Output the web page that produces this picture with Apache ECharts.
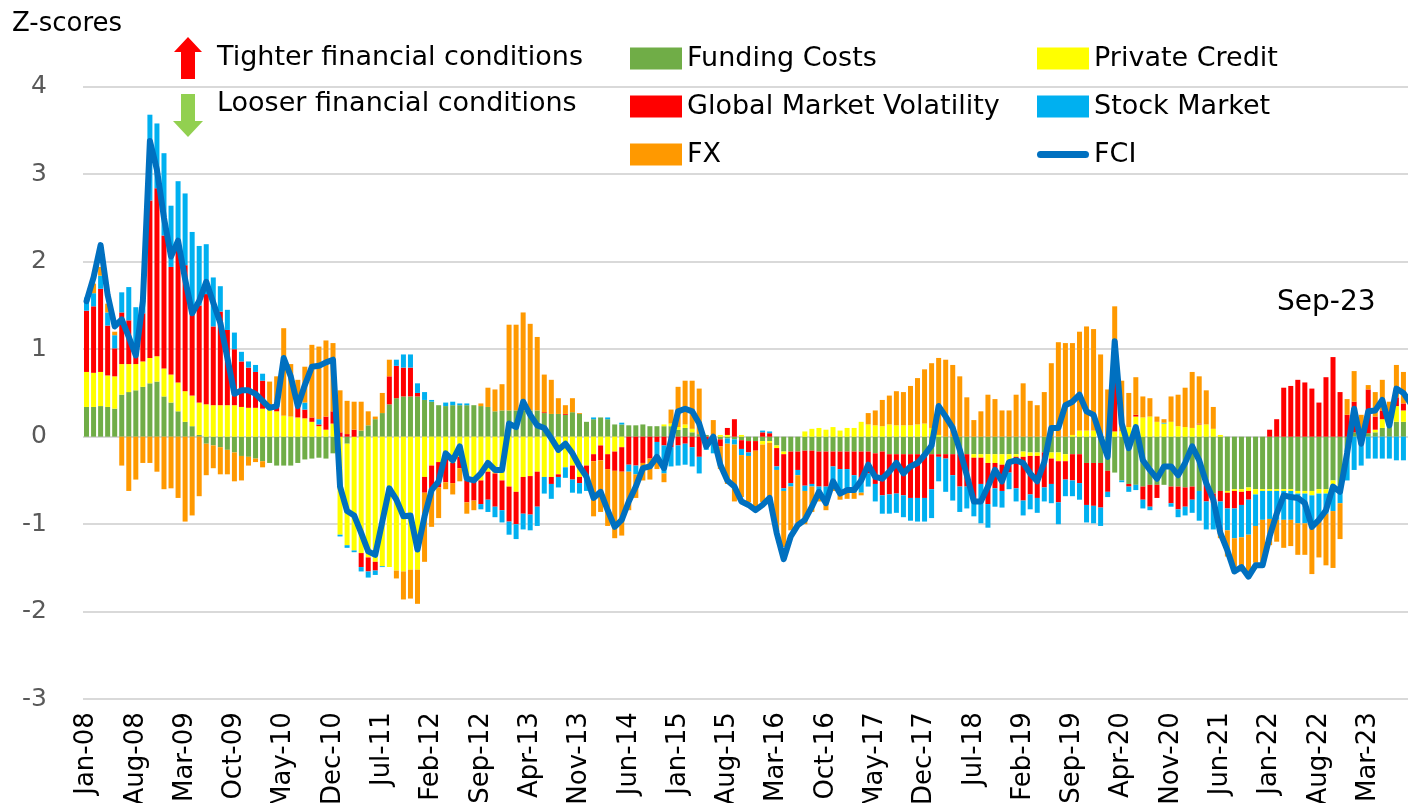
<!DOCTYPE html>
<html>
<head>
<meta charset="utf-8">
<script src="https://cdn.jsdelivr.net/npm/echarts@6/dist/echarts.min.js"></script>
<style>
html, body { margin:0; padding:0; overflow:hidden; background:#fff; }
#chart { width:1416px; height:803px; }
</style>
</head>
<body>
<div id="chart"></div>
<script>
// month labels Jan-08 .. Sep-23
var monthNames = ['Jan','Feb','Mar','Apr','May','Jun','Jul','Aug','Sep','Oct','Nov','Dec'];
var months = [];
for (var y = 8; y <= 23; y++) {
  for (var k = 0; k < 12; k++) {
    if (y === 23 && k > 8) break;
    months.push(monthNames[k] + '-' + (y < 10 ? '0' + y : y));
  }
}

var fundingCosts = [
  0.34, 0.34, 0.35, 0.34, 0.32, 0.48, 0.51, 0.53, 0.57, 0.61,
  0.63, 0.46, 0.39, 0.29, 0.17, 0.12, 0.02, -0.08, -0.10, -0.12,
  -0.15, -0.18, -0.22, -0.23, -0.25, -0.28, -0.30, -0.33, -0.33, -0.33,
  -0.30, -0.26, -0.25, -0.24, -0.25, -0.19, 0, -0.08, 0, 0.07,
  0.13, 0.20, 0.27, 0.37, 0.44, 0.46, 0.46, 0.46, 0.42, 0.40,
  0.36, 0.35, 0.36, 0.36, 0.36, 0.36, 0.35, 0.34, 0.29, 0.30,
  0.30, 0.30, 0.30, 0.30, 0.30, 0.27, 0.26, 0.26, 0.25, 0.28,
  0.26, 0.17, 0.20, 0.22, 0.20, 0.14, 0.14, 0.13, 0.13, 0.14,
  0.12, 0.12, 0.12, 0.12, 0.08, 0.10, 0.05, 0.03, 0.02, -0.02,
  -0.03, -0.02, -0.03, -0.04, -0.05, -0.05, -0.05, -0.05, -0.10, -0.17,
  -0.17, -0.17, -0.16, -0.16, -0.17, -0.17, -0.17, -0.17, -0.17, -0.17,
  -0.17, -0.17, -0.19, -0.17, -0.20, -0.20, -0.20, -0.20, -0.20, -0.20,
  -0.20, -0.20, -0.20, -0.20, -0.20, -0.20, -0.20, -0.20, -0.20, -0.20,
  -0.20, -0.20, -0.20, -0.17, -0.18, -0.18, -0.18, -0.18, -0.18, -0.20,
  -0.20, -0.20, -0.30, -0.30, -0.30, -0.39, -0.41, -0.50, -0.54, -0.55,
  -0.57, -0.55, -0.55, -0.55, -0.57, -0.57, -0.58, -0.57, -0.62, -0.55,
  -0.65, -0.62, -0.62, -0.60, -0.60, -0.58, -0.60, -0.60, -0.60, -0.60,
  -0.60, -0.60, -0.62, -0.62, -0.62, -0.60, -0.60, -0.50, -0.60, -0.15,
  0.05, -0.03, 0.04, 0.05, 0.10, 0.11, 0.17, 0.17, 0.18
];

var privateCredit = [
  0.40, 0.39, 0.39, 0.36, 0.37, 0.35, 0.32, 0.30, 0.29, 0.29,
  0.29, 0.32, 0.32, 0.33, 0.35, 0.35, 0.37, 0.37, 0.36, 0.36,
  0.36, 0.36, 0.34, 0.33, 0.33, 0.32, 0.31, 0.29, 0.24, 0.23,
  0.22, 0.21, 0.17, 0.12, 0.08, 0.15, -1.12, -1.16, -1.30, -1.33,
  -1.38, -1.43, -1.48, -1.49, -1.53, -1.54, -1.52, -1.52, -0.46, -0.33,
  -0.29, -0.23, -0.30, -0.23, -0.50, -0.50, -0.50, -0.40, -0.42, -0.50,
  -0.57, -0.63, -0.46, -0.45, -0.40, -0.46, -0.46, -0.43, -0.35, -0.33,
  -0.46, -0.33, -0.20, -0.10, -0.20, -0.17, -0.12, 0, 0, 0,
  0, 0, 0.02, 0.03, 0.03, 0.04, 0.04, 0, 0, 0,
  0.02, 0.02, 0, 0.02, 0, 0, -0.04, -0.02, -0.03, -0.03,
  0, 0, 0.06, 0.09, 0.10, 0.08, 0.11, 0.07, 0.10, 0.10,
  0.17, 0.14, 0.13, 0.12, 0.14, 0.13, 0.13, 0.13, 0.14, 0.15,
  0.10, 0.02, 0, 0, 0, 0, -0.04, -0.04, -0.10, -0.10,
  -0.12, -0.08, -0.03, -0.06, -0.04, -0.04, 0, -0.07, -0.10, -0.08,
  0.02, 0.07, 0.07, 0.07, 0, 0, 0.06, 0.06, 0.11, 0.23,
  0.22, 0.23, 0.17, 0.15, 0.17, 0.12, 0.11, 0.10, 0.14, 0.14,
  0.09, 0.02, -0.02, -0.02, -0.03, -0.04, -0.06, -0.02, -0.02, -0.02,
  -0.02, -0.02, -0.03, -0.03, -0.05, -0.05, -0.05, -0.05, -0.02, 0,
  0, 0, 0, 0.03, 0.10, 0.05, 0.18, 0.13, 0.10
];

var globalVol = [
  0.70, 0.76, 0.95, 0.57, 0.32, 0.59, 0.50, 0.10, 0.55, 1.80,
  1.92, 1.52, 1.23, 1.54, 1.44, 0.94, 1.11, 1.26, 0.90, 1.07,
  0.86, 0.64, 0.52, 0.46, 0.41, 0.32, 0, 0.11, 0, 0,
  0.16, 0.10, 0.05, 0.02, 0.15, 0.14, 0.05, 0.03, 0.08, -0.16,
  -0.16, -0.10, 0, 0.32, 0.37, 0.33, 0.33, 0.04, -0.18, -0.30,
  -0.29, -0.29, -0.23, -0.13, -0.25, -0.23, -0.27, -0.32, -0.38, -0.34,
  -0.40, -0.37, -0.42, -0.44, -0.40, 0.01, -0.08, -0.03, 0.01, -0.16,
  -0.07, -0.12, -0.08, -0.17, -0.17, -0.22, -0.28, -0.32, -0.33, -0.30,
  -0.25, -0.06, -0.10, -0.12, -0.10, -0.08, -0.12, -0.23, -0.05, 0.02,
  -0.08, 0.08, 0.20, -0.10, -0.13, -0.11, 0.05, 0.04, -0.21, -0.39,
  -0.36, -0.21, -0.40, -0.38, -0.40, -0.40, -0.17, -0.20, -0.20, -0.27,
  -0.30, -0.25, -0.35, -0.50, -0.46, -0.45, -0.47, -0.50, -0.50, -0.50,
  -0.40, -0.03, -0.05, -0.24, -0.37, -0.37, -0.48, -0.30, -0.47, -0.29,
  -0.30, -0.13, -0.36, -0.50, -0.44, -0.48, -0.40, -0.29, -0.47, -0.21,
  -0.30, -0.33, -0.48, -0.49, -0.51, -0.24, 1.04, 0, -0.03, 0.02,
  -0.15, -0.25, -0.15, 0, -0.19, -0.26, -0.22, -0.15, 0.01, -0.19,
  -0.11, -0.12, -0.18, -0.20, -0.15, -0.10, 0, 0, 0.08, 0.20,
  0.56, 0.58, 0.65, 0.62, 0.55, 0.39, 0.68, 0.91, 0.51, 0.25,
  0.35, 0.05, 0.50, 0.15, 0.10, 0.05, 0.10, 0.08, 0.05
];

var stockMarket = [
  0.15, 0.15, 0.15, 0.15, 0.15, 0.23, 0.38, 0.55, 0.15, 0.98,
  0.74, 0.94, 0.70, 0.76, 0.82, 0.93, 0.68, 0.57, 0.56, 0.29,
  0.23, 0.19, 0.11, 0.07, 0.08, 0.08, 0, 0, 0, 0,
  0, 0.08, 0, 0.06, 0, 0, -0.02, -0.03, -0.02, -0.05,
  -0.07, -0.05, -0.01, 0, 0.07, 0.15, 0.15, 0.11, 0.09, 0.02,
  0, 0.04, 0.04, 0.02, 0.02, 0, -0.06, -0.14, -0.12, -0.14,
  -0.15, -0.17, -0.18, -0.18, -0.22, -0.19, -0.17, -0.12, -0.12, -0.15,
  -0.12, -0.17, 0.02, 0, 0.02, 0, 0.02, -0.08, -0.10, 0,
  0, -0.19, -0.32, -0.22, -0.23, -0.24, -0.22, -0.19, -0.10, -0.17,
  0, -0.06, -0.06, -0.07, -0.04, 0, 0.02, 0.02, -0.04, -0.03,
  -0.04, -0.06, -0.06, -0.03, -0.07, -0.12, -0.23, -0.25, -0.25, -0.20,
  -0.17, -0.15, -0.20, -0.21, -0.22, -0.22, -0.25, -0.26, -0.27, -0.27,
  -0.33, -0.28, -0.38, -0.29, -0.29, -0.25, -0.19, -0.45, -0.27, -0.21,
  -0.19, -0.19, -0.15, -0.17, -0.17, -0.17, -0.16, -0.22, -0.25, -0.19,
  -0.18, -0.19, -0.20, -0.20, -0.21, -0.06, 0, -0.02, -0.06, -0.06,
  -0.10, -0.04, 0, 0.01, -0.04, -0.09, -0.10, -0.15, -0.34, -0.32,
  -0.30, -0.32, -0.25, -0.34, -0.37, -0.40, -0.36, -0.33, -0.32, -0.33,
  -0.33, -0.33, -0.34, -0.34, -0.35, -0.29, -0.23, -0.30, -0.14, -0.35,
  -0.38, -0.30, -0.25, -0.25, -0.25, -0.25, -0.27, -0.27, -0.25
];

var fx = [
  0, 0.11, 0.10, 0.10, 0.04, -0.33, -0.62, -0.49, -0.30, -0.30,
  -0.40, -0.60, -0.59, -0.70, -0.97, -0.90, -0.68, -0.36, -0.26, -0.31,
  -0.28, -0.33, -0.28, -0.10, -0.04, -0.07, 0.32, 0.29, 1.00, 0.60,
  0.27, 0.41, 0.83, 0.83, 0.87, 0.78, 0.48, 0.38, 0.32, 0.33,
  0.16, 0.03, 0.23, 0.19, -0.09, -0.32, -0.33, -0.39, -0.79, -0.40,
  -0.35, -0.08, -0.13, -0.15, -0.13, -0.11, 0.03, 0.22, 0.25, 0.30,
  0.98, 0.98, 1.12, 0.99, 0.84, 0.43, 0.39, 0.18, 0.10, 0.16,
  0.01, 0, -0.63, -0.59, -0.65, -0.77, -0.73, -0.44, -0.27, -0.20,
  -0.24, -0.12, -0.10, 0.16, 0.46, 0.50, 0.55, 0.52, 0, 0.17,
  -0.26, -0.46, -0.65, -0.48, -0.53, -0.67, -0.66, -0.70, -0.70, -0.64,
  -0.50, -0.55, -0.38, -0.29, -0.10, -0.15, -0.05, -0.10, -0.09, -0.07,
  -0.03, 0.13, 0.17, 0.30, 0.33, 0.39, 0.38, 0.45, 0.53, 0.62,
  0.74, 0.88, 0.88, 0.82, 0.69, 0.45, 0.19, 0.29, 0.48, 0.43,
  0.30, 0.30, 0.48, 0.61, 0.41, 0.36, 0.51, 0.84, 1.08, 1.07,
  1.05, 1.13, 1.19, 1.16, 0.94, 0.54, 0.39, 0.58, 0.39, 0.43,
  0.24, 0.21, 0.06, 0.04, 0.29, 0.36, 0.45, 0.64, 0.54, 0.39,
  0.25, -0.10, -0.30, -0.40, -0.35, -0.44, -0.42, -0.52, -0.30, -0.25,
  -0.32, -0.30, -0.36, -0.36, -0.55, -0.44, -0.59, -0.65, -0.41, 0.18,
  0.35, 0.20, 0.05, 0.28, 0.35, 0.19, 0.37, 0.36, 0.30
];

var fci = [
  1.55, 1.82, 2.19, 1.62, 1.26, 1.34, 1.14, 0.93, 1.55, 3.38,
  3.05, 2.50, 2.06, 2.24, 1.80, 1.41, 1.55, 1.77, 1.53, 1.30,
  0.90, 0.49, 0.53, 0.53, 0.49, 0.41, 0.33, 0.35, 0.90, 0.69,
  0.35, 0.59, 0.80, 0.81, 0.85, 0.88, -0.57, -0.85, -0.90, -1.10,
  -1.31, -1.35, -0.97, -0.59, -0.72, -0.91, -0.90, -1.29, -0.91, -0.61,
  -0.51, -0.19, -0.27, -0.11, -0.48, -0.50, -0.42, -0.30, -0.38, -0.38,
  0.15, 0.11, 0.40, 0.25, 0.13, 0.10, -0.02, -0.15, -0.08, -0.19,
  -0.34, -0.46, -0.70, -0.63, -0.84, -1.03, -0.95, -0.74, -0.57, -0.36,
  -0.34, -0.23, -0.36, -0.04, 0.29, 0.32, 0.29, 0.15, -0.11, 0.00,
  -0.32, -0.50, -0.57, -0.74, -0.78, -0.84, -0.78, -0.70, -1.10, -1.40,
  -1.14, -1.01, -0.95, -0.80, -0.63, -0.76, -0.51, -0.65, -0.61, -0.61,
  -0.50, -0.32, -0.46, -0.48, -0.40, -0.30, -0.42, -0.34, -0.30, -0.21,
  -0.10, 0.35, 0.23, 0.10, -0.15, -0.44, -0.74, -0.74, -0.57, -0.38,
  -0.51, -0.29, -0.27, -0.30, -0.42, -0.51, -0.29, 0.10, 0.10, 0.36,
  0.40, 0.48, 0.29, 0.25, 0.00, -0.23, 1.09, 0.15, -0.13, 0.11,
  -0.27, -0.38, -0.48, -0.34, -0.34, -0.44, -0.30, -0.11, -0.27, -0.53,
  -0.72, -1.10, -1.30, -1.54, -1.49, -1.60, -1.47, -1.47, -1.14, -0.88,
  -0.67, -0.69, -0.70, -0.76, -1.03, -0.95, -0.84, -0.57, -0.63, -0.19,
  0.32, -0.08, 0.29, 0.30, 0.42, 0.13, 0.55, 0.50, 0.38
];

var FONT = 'DejaVu Sans';
var chart = echarts.init(document.getElementById('chart'));

function barSeries(name, data, color) {
  return {
    name: name,
    type: 'bar',
    stack: 'total',
    data: data,
    barWidth: 5,
    itemStyle: { color: color },
    animation: false
  };
}

// thick blue stroke used as the FCI legend key
var fciIcon = 'path://M3.5,0H48.5A3.5,3.5,0,0,1,48.5,7H3.5A3.5,3.5,0,0,1,3.5,0Z';

var legendText = { fontFamily: FONT, fontSize: 27, color: '#000', lineHeight: 25 };

var option = {
  backgroundColor: '#fff',
  animation: false,
  textStyle: { fontFamily: FONT },
  grid: { left: 83, right: 2, top: 86.7, bottom: 103.8, outerBoundsMode: 'none', containLabel: false },
  legend: [
    {
      left: 630, top: 45, orient: 'vertical', padding: 0,
      itemWidth: 52, itemHeight: 22, itemGap: 21, icon: 'rect',
      textStyle: legendText,
      data: ['Funding Costs', 'Global Market Volatility', 'FX']
    },
    {
      left: 1037, top: 45, orient: 'vertical', padding: 0,
      itemWidth: 52, itemHeight: 22, itemGap: 21, icon: 'rect',
      textStyle: legendText,
      data: ['Private Credit', 'Stock Market', { name: 'FCI', icon: fciIcon }]
    }
  ],
  xAxis: {
    type: 'category',
    data: months,
    axisLine: { show: false },
    axisTick: { show: false },
    axisLabel: {
      interval: 6, rotate: 90, margin: 13,
      fontFamily: FONT, fontSize: 26, color: '#000'
    }
  },
  yAxis: {
    type: 'value',
    min: -3, max: 4, interval: 1,
    axisLine: { show: false },
    axisTick: { show: false },
    axisLabel: { fontFamily: FONT, fontSize: 25, color: '#595959', margin: 36 },
    splitLine: { lineStyle: { color: '#d9d9d9', width: 2 } }
  },
  graphic: [
    { type: 'text', left: 12, top: 11, style: { text: 'Z-scores', fontFamily: FONT, fontSize: 26, fill: '#000' } },
    { type: 'text', left: 1277, top: 289, style: { text: 'Sep-23', fontFamily: FONT, fontSize: 28, fill: '#000' } },
    { type: 'polygon', shape: { points: [[188,37],[202,52],[195,52],[195,79],[181,79],[181,52],[174,52]] }, style: { fill: '#ff0000' } },
    { type: 'polygon', shape: { points: [[181,94],[195,94],[195,121],[203,121],[188,137],[173,121],[181,121]] }, style: { fill: '#92d050' } },
    { type: 'text', x: 217, y: 58, style: { text: 'Tighter financial conditions', fontFamily: FONT, fontSize: 27, fill: '#000', verticalAlign: 'middle' } },
    { type: 'text', x: 217, y: 104, style: { text: 'Looser financial conditions', fontFamily: FONT, fontSize: 27, fill: '#000', verticalAlign: 'middle' } }
  ],
  series: [
    barSeries('Funding Costs', fundingCosts, '#70ad47'),
    barSeries('Private Credit', privateCredit, '#ffff00'),
    barSeries('Global Market Volatility', globalVol, '#ff0000'),
    barSeries('Stock Market', stockMarket, '#00b0f0'),
    barSeries('FX', fx, '#ff9900'),
    {
      name: 'FCI',
      type: 'line',
      data: fci,
      symbol: 'none',
      z: 10,
      itemStyle: { color: '#0070c0' },
      lineStyle: { color: '#0070c0', width: 6, cap: 'round', join: 'round' },
      animation: false
    }
  ]
};

chart.setOption(option);
</script>
</body>
</html>
